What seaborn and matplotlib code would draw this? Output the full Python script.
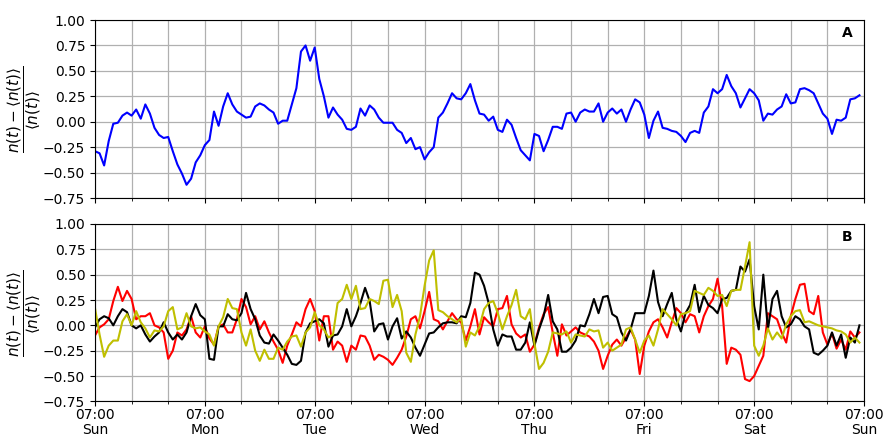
import numpy as np
import pandas as pd
import matplotlib
matplotlib.use("Agg")
import matplotlib.pyplot as plt
import matplotlib.dates as mdates
import seaborn as sns

# Hourly samples starting Sunday 07:00
start_time = "2013-01-06 07:00"

blue_series = [
    -0.29, -0.31, -0.43, -0.19, -0.02, -0.01, 0.06, 0.09, 0.06, 0.12,
    0.03, 0.17, 0.08, -0.06, -0.13, -0.16, -0.15, -0.29, -0.42, -0.51,
    -0.62, -0.56, -0.40, -0.33, -0.23, -0.18, 0.10, -0.04, 0.15, 0.28,
    0.17, 0.10, 0.07, 0.04, 0.05, 0.15, 0.18, 0.16, 0.12, 0.09,
    -0.02, 0.01, 0.01, 0.17, 0.33, 0.69, 0.75, 0.60, 0.73, 0.42,
    0.25, 0.04, 0.14, 0.07, 0.02, -0.07, -0.08,
    -0.05, 0.13, 0.06, 0.16, 0.12, 0.04, -0.01, -0.01, -0.01, -0.08,
    -0.11, -0.21, -0.16, -0.27, -0.25, -0.37, -0.30, -0.25, 0.04, 0.09,
    0.18, 0.28, 0.23, 0.22, 0.28, 0.37, 0.21, 0.08, 0.07, 0.01,
    0.05, -0.08, -0.10, 0.02, -0.03, -0.16, -0.28, -0.33, -0.38, -0.12,
    -0.14, -0.29, -0.18, -0.05, -0.05, -0.07, 0.08, 0.09, 0.00, 0.09,
    0.12, 0.10, 0.10, 0.18,
    0.00, 0.09, 0.13, 0.08, 0.12, 0.00, 0.12, 0.22, 0.19, 0.07,
    -0.16, 0.01, 0.10, -0.06, -0.07, -0.09, -0.10, -0.14, -0.20, -0.11,
    -0.09, -0.11, 0.09, 0.15, 0.32, 0.28, 0.32, 0.46, 0.35, 0.28,
    0.14, 0.23, 0.32, 0.28, 0.21, 0.01, 0.08, 0.07, 0.12, 0.15,
    0.27, 0.18, 0.19, 0.32, 0.33, 0.31, 0.28, 0.18, 0.08, 0.03,
    -0.12, 0.02, 0.01, 0.04, 0.22, 0.23, 0.26,
]

red_series = [
    -0.10, -0.02, 0.01, 0.06, 0.24, 0.38, 0.24, 0.34, 0.26, 0.06,
    0.09, 0.09, 0.12, 0.00, -0.02, -0.07, -0.33, -0.25, -0.07, -0.10,
    -0.04, 0.09, -0.07, -0.12, -0.01, -0.13, -0.19, -0.01, 0.01, -0.07,
    -0.07, 0.06, 0.26, 0.18, 0.01, 0.09, -0.04, 0.04, -0.07, -0.16,
    -0.24, -0.37, -0.20, -0.09, 0.03, -0.01, 0.16, 0.26, 0.14, -0.15,
    0.09, 0.09, -0.24, -0.16, -0.20, -0.36, -0.20,
    -0.24, -0.10, -0.11, -0.20, -0.34, -0.29, -0.31, -0.34, -0.39, -0.32,
    -0.24, -0.11, 0.06, 0.09, -0.03, 0.14, 0.33, 0.06, 0.04, -0.04,
    0.04, 0.12, 0.06, 0.03, -0.15, -0.01, 0.16, -0.09, 0.08, 0.03,
    -0.01, 0.16, 0.17, 0.29, 0.01, -0.08, -0.12, -0.09, -0.26, -0.19,
    -0.02, 0.11, 0.18, -0.07, -0.30, 0.01, -0.10, -0.06, -0.02, -0.07,
    -0.09, -0.11, -0.16, -0.25,
    -0.43, -0.30, -0.19, -0.14, -0.20, -0.12, -0.04, -0.14, -0.48, -0.20,
    -0.06, 0.03, 0.06, -0.02, -0.12, 0.03, 0.17, 0.12, 0.03, 0.11,
    0.09, -0.07, 0.09, 0.19, 0.26, 0.46, 0.19, -0.38, -0.22, -0.24,
    -0.29, -0.53, -0.55, -0.50, -0.40, -0.30, 0.12, 0.09, 0.06, -0.07,
    -0.17, 0.09, 0.26, 0.40, 0.41, 0.14, 0.11, 0.29, -0.07, -0.19,
    -0.08, -0.23, -0.14, -0.24, -0.06, -0.12, -0.07,
]

black_series = [
    -0.02, 0.06, 0.09, 0.07, 0.00, 0.09, 0.16, 0.13, 0.00, -0.03,
    0.00, -0.09, -0.16, -0.11, -0.07, 0.03, -0.07, -0.14, -0.09, -0.14,
    -0.07, 0.09, 0.21, 0.10, 0.06, -0.33, -0.34, -0.01, -0.01, 0.11,
    0.06, 0.05, 0.12, 0.32, 0.16, 0.06, -0.10, -0.17, -0.18, -0.09,
    -0.15, -0.22, -0.29, -0.38, -0.39, -0.35, -0.07, 0.02, 0.04, 0.06,
    0.02, -0.21, -0.10, -0.09, -0.01, 0.16, -0.01,
    0.09, 0.22, 0.37, 0.24, -0.06, 0.01, 0.02, -0.14, -0.01, 0.07,
    -0.13, -0.06, -0.12, -0.22, -0.30, -0.19, -0.08, -0.07, -0.02, 0.02,
    0.03, 0.03, 0.02, 0.09, 0.08, 0.22, 0.52, 0.50, 0.39, 0.22,
    -0.04, -0.20, -0.09, -0.11, -0.11, -0.24, -0.24, -0.17, 0.03, -0.20,
    -0.04, 0.09, 0.30, 0.04, -0.04, -0.26, -0.26, -0.22, -0.15, 0.00,
    -0.01, 0.11, 0.26, 0.12,
    0.28, 0.29, 0.11, 0.08, -0.07, -0.15, -0.04, 0.12, 0.12, 0.12,
    0.29, 0.54, 0.23, 0.09, 0.21, 0.32, 0.06, -0.06, 0.12, 0.20,
    0.40, 0.13, 0.29, 0.20, 0.17, 0.12, 0.26, 0.27, 0.34, 0.35,
    0.58, 0.53, 0.65, 0.19, -0.04, 0.50, -0.04, 0.26, 0.34, 0.09,
    -0.02, 0.01, 0.09, 0.06, -0.01, -0.04, -0.27, -0.29, -0.25, -0.20,
    -0.07, -0.20, -0.09, -0.32, -0.12, -0.17, 0.00,
]

yellow_series = [
    0.17, -0.09, -0.31, -0.20, -0.15, -0.15, 0.04, 0.11, 0.00, 0.14,
    0.03, -0.03, -0.12, -0.05, -0.06, -0.01, 0.14, 0.18, -0.04, -0.02,
    0.12, -0.01, -0.03, -0.02, -0.06, -0.09, -0.20, -0.01, 0.08, 0.26,
    0.17, 0.16, -0.07, -0.20, -0.04, -0.25, -0.35, -0.24, -0.33, -0.33,
    -0.22, -0.24, -0.16, -0.11, -0.10, -0.21, -0.07, -0.02, 0.13, 0.00,
    -0.04, -0.12, -0.09, 0.22, 0.26, 0.40, 0.26,
    0.39, 0.16, 0.17, 0.26, 0.24, 0.21, 0.44, 0.45, 0.18, 0.30,
    0.14, -0.27, -0.36, -0.09, 0.09, 0.39, 0.64, 0.74, 0.15, 0.13,
    0.09, 0.06, 0.03, 0.07, -0.21, -0.07, -0.10, -0.01, 0.16, 0.22,
    0.24, 0.12, -0.04, 0.09, 0.20, 0.35, 0.09, 0.06, 0.16, -0.18,
    -0.43, -0.37, -0.26, -0.07, -0.08, -0.09, -0.06, -0.17, -0.09, -0.10,
    -0.11, -0.04, -0.06, -0.05,
    -0.22, -0.17, -0.25, -0.22, -0.19, -0.04, -0.02, -0.14, -0.27, -0.15,
    -0.10, -0.20, -0.04, 0.16, 0.11, 0.06, 0.00, 0.11, 0.12, 0.14,
    0.34, 0.32, 0.30, 0.37, 0.34, 0.29, 0.30, 0.19, 0.34, 0.35,
    0.35, 0.58, 0.82, -0.20, -0.30, -0.20, -0.03, -0.14, -0.07, -0.13,
    0.01, 0.09, 0.14, 0.15, 0.03, 0.04, 0.02, 0.00, -0.01, -0.02,
    -0.03, -0.05, -0.06, -0.09, -0.17, -0.12, -0.17,
]

yticks = [-0.75, -0.50, -0.25, 0.00, 0.25, 0.50, 0.75, 1.00]
panel_labels = ["A", "B"]

times = pd.date_range(start_time, periods=len(blue_series), freq="h")
t0 = pd.Timestamp(start_time)
t1 = t0 + pd.Timedelta(days=7)

fig = plt.figure(figsize=(8.86, 4.37), dpi=100)
ax1 = fig.add_axes([0.1072, 0.5469, 0.868, 0.4073])
ax2 = fig.add_axes([0.1072, 0.0815, 0.868, 0.4060], sharex=ax1)

sns.lineplot(x=times, y=blue_series, ax=ax1, color="b", lw=1.5, estimator=None)
sns.lineplot(x=times, y=red_series, ax=ax2, color="r", lw=1.5, estimator=None)
sns.lineplot(x=times, y=black_series, ax=ax2, color="k", lw=1.5, estimator=None)
sns.lineplot(x=times, y=yellow_series, ax=ax2, color="y", lw=1.5, estimator=None)

ylabel = r"$\dfrac{n(t)-\langle n(t)\rangle}{\langle n(t)\rangle}$"
for ax, lab in zip((ax1, ax2), panel_labels):
    ax.set_ylim(-0.75, 1.0)
    ax.set_yticks(yticks)
    ax.set_xlim(t0, t1)
    ax.xaxis.set_major_locator(mdates.HourLocator(byhour=[7]))
    ax.xaxis.set_minor_locator(mdates.HourLocator(byhour=[15, 23]))
    ax.xaxis.set_major_formatter(mdates.DateFormatter("%H:%M\n%a"))
    ax.grid(True, which="both", color="#b0b0b0", lw=0.9)
    ax.set_axisbelow(True)
    ax.set_xlabel("")
    ax.set_ylabel(ylabel, fontsize=11)
    ax.yaxis.set_label_coords(-0.068, 0.5)
    ax.tick_params(axis="x", which="major", pad=1.5)
    ax.text(0.978, 0.925, lab, transform=ax.transAxes, fontweight="bold",
            ha="center", va="center", fontsize=10)

plt.setp(ax1.get_xticklabels(), visible=False)
ax1.tick_params(axis="x", which="major", labelbottom=False)
for t in ax2.get_xticklabels():
    t.set_linespacing(1.1)

fig.savefig("out.png", dpi=100)
